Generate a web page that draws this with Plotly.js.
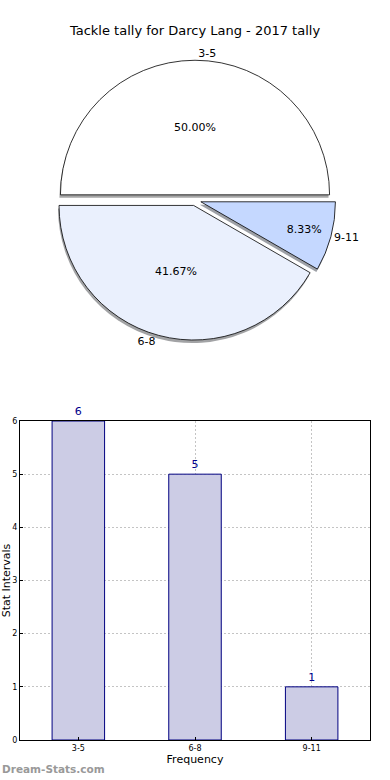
<!DOCTYPE html>
<html><head><meta charset="utf-8">
<script src="https://cdn.plot.ly/plotly-3.0.1.min.js"></script>
<style>html,body{margin:0;padding:0;background:#fff}#c{width:390px;height:780px}</style>
</head><body><div id="c"></div>
<script>
const categories = ["3-5", "6-8", "9-11"];
const counts = [6, 5, 1];
const pieColors = ["#ffffff", "rgb(234,240,253)", "rgb(197,216,255)"];
const pulls = [0.04, 0.04, 0.045];
const titleText = "Tackle tally for Darcy Lang - 2017 tally";
const FONT = "DejaVu Sans, sans-serif";

const pieDomX = [0, 1];
const pieDomY = [0.563, 0.9236];
const shadowDx = -2/350, shadowDy = -3/780;
const ROT = -90;

const shadow = {
  type: "pie", labels: categories, values: counts, sort: false,
  direction: "counterclockwise", rotation: ROT, pull: pulls,
  domain: {x: [pieDomX[0]+shadowDx, pieDomX[1]+shadowDx], y: [pieDomY[0]+shadowDy, pieDomY[1]+shadowDy]},
  marker: {colors: ["rgba(77,77,77,0.5)", "rgba(70,72,76,0.5)", "rgba(59,65,77,0.5)"], line: {width: 0}},
  textinfo: "none", hoverinfo: "skip", showlegend: false
};
const main = {
  type: "pie", labels: categories, values: counts, sort: false,
  direction: "counterclockwise", rotation: ROT, pull: pulls,
  domain: {x: pieDomX, y: pieDomY},
  marker: {colors: pieColors, line: {color: "#000", width: 0.8}},
  texttemplate: "%{percent:.2%}", textposition: "inside",
  insidetextorientation: "horizontal",
  textfont: {family: FONT, size: 11, color: "#000"},
  showlegend: false
};
const labelsTrace = {
  type: "pie", labels: categories, values: counts, sort: false,
  direction: "counterclockwise", rotation: ROT, pull: pulls,
  domain: {x: pieDomX, y: pieDomY},
  marker: {colors: ["rgba(0,0,0,0)","rgba(0,0,0,0)","rgba(0,0,0,0)"], line: {width: 0}},
  textinfo: "label", textposition: "outside",
  outsidetextfont: {family: FONT, size: 11, color: "#000"},
  hoverinfo: "skip", showlegend: false
};
const bars = {
  type: "bar", x: categories, y: counts, width: 0.45,
  marker: {color: "rgb(204,204,229)", line: {color: "rgb(0,0,128)", width: 1}},
  text: counts.map(String), textposition: "outside", cliponaxis: false,
  textfont: {family: FONT, size: 11, color: "rgb(0,0,139)"},
  xaxis: "x", yaxis: "y", showlegend: false
};

const layout = {
  width: 390, height: 780,
  margin: {l: 20, r: 20, t: 0, b: 0},
  paper_bgcolor: "#fff", plot_bgcolor: "#fff",
  font: {family: FONT, color: "#000"},
  title: {text: titleText, x: 0.5, xanchor: "center", y: 1 - 30/780, yanchor: "middle",
          font: {family: FONT, size: 13, color: "#000"}},
  xaxis: {domain: [0, 1], anchor: "y", type: "category", range: [-0.5, 2.5],
          showline: true, mirror: true, linecolor: "#000", linewidth: 1,
          showgrid: true, gridcolor: "#c4c4c4", griddash: "2px,2px", gridwidth: 1,
          ticks: "inside", ticklen: 3, tickcolor: "#000",
          tickfont: {family: FONT, size: 8}, zeroline: false,
          title: {text: "Frequency", font: {family: FONT, size: 11}, standoff: 2}},
  yaxis: {domain: [1 - 740/780, 1 - 421/780], anchor: "x", range: [0, 6], dtick: 1,
          showline: true, mirror: true, linecolor: "#000", linewidth: 1,
          showgrid: true, gridcolor: "#c4c4c4", griddash: "2px,2px", gridwidth: 1,
          ticks: "inside", ticklen: 3, tickcolor: "#000",
          tickfont: {family: FONT, size: 8}, zeroline: false,
          title: {text: "Stat Intervals", font: {family: FONT, size: 11}, standoff: 0}},
  annotations: [{text: "<b>Dream-Stats.com</b>", xref: "paper", yref: "paper",
                 x: -20/350, xanchor: "left", y: 0, yanchor: "bottom", yshift: 3, showarrow: false,
                 font: {family: FONT, size: 10.5, color: "#999"}}]
};

Plotly.newPlot("c", [shadow, main, labelsTrace, bars], layout, {displayModeBar: false, staticPlot: true});
</script></body></html>
